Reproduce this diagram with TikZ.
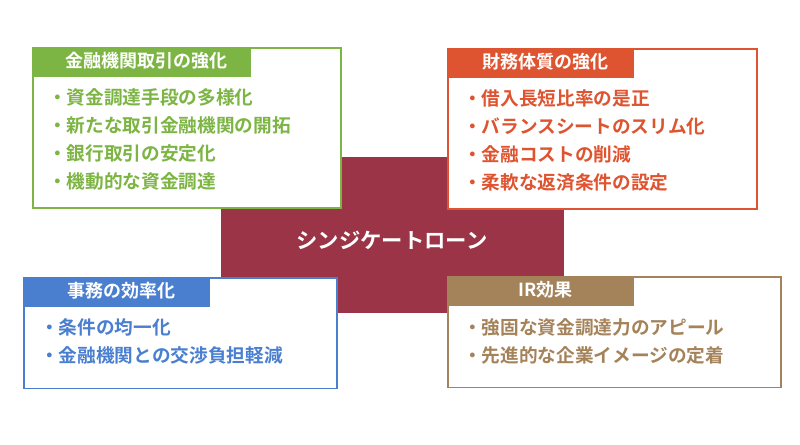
\documentclass[tikz,border=0pt]{standalone}
\usepackage{fontspec}
\newfontfamily\jpfont{Noto Sans CJK JP}
\newfontfamily\jpbold{Noto Sans CJK JP Bold}
\usetikzlibrary{positioning}
\definecolor{cgreen}{HTML}{7DB544}
\definecolor{corange}{HTML}{DF5430}
\definecolor{cblue}{HTML}{4A7FD0}
\definecolor{cbrown}{HTML}{A5835A}
\definecolor{ccenter}{HTML}{9B3447}
\tikzset{
  panel/.style={draw=#1, line width=1.2pt, fill=white, anchor=north west, inner sep=0pt},
  tab/.style={fill=#1, anchor=north west, inner sep=0pt, text=white,
    font=\jpbold\fontsize{13.5}{13.5}\selectfont, align=left, text height=10pt},
  items/.style={text=#1, anchor=north west, align=left,
    font=\jpbold\fontsize{14}{21}\selectfont, inner sep=0pt}
}
\begin{document}
\begin{tikzpicture}[x=0.75pt,y=-0.75pt]
  \useasboundingbox (0,0) rectangle (800,444);
  \fill[ccenter] (221,157) rectangle (564,313);
  \node[text=white, font=\jpbold\fontsize{16}{16}\selectfont] (center) at (392,240) {シンジケートローン};

  % top left
  \node[panel=cgreen, minimum width=231pt, minimum height=120pt] (gbox) at (32,47) {};
  \node[tab=cgreen, minimum width=164pt, minimum height=22pt] (gtab) at (32,47) {\hspace{7pt}金融機関取引の強化};
  \node[items=cgreen] (gitems) at (48,88) {・資金調達手段の多様化\\・新たな取引金融機関の開拓\\・銀行取引の安定化\\・機動的な資金調達};

  % top right
  \node[panel=corange, minimum width=232pt, minimum height=120pt] (obox) at (447,48) {};
  \node[tab=corange, minimum width=140pt, minimum height=22pt] (otab) at (447,48) {\hspace{7pt}財務体質の強化};
  \node[items=corange] (oitems) at (463,89) {・借入長短比率の是正\\・バランスシートのスリム化\\・金融コストの削減\\・柔軟な返済条件の設定};

  % bottom left
  \node[panel=cblue, minimum width=235pt, minimum height=83pt] (bbox) at (23,277) {};
  \node[tab=cblue, minimum width=140pt, minimum height=22pt] (btab) at (23,277) {\hspace{7pt}事務の効率化};
  \node[items=cblue] (bitems) at (40,318) {・条件の均一化\\・金融機関との交渉負担軽減};

  % bottom right
  \node[panel=cbrown, minimum width=250pt, minimum height=83pt] (rbox) at (447,276) {};
  \node[tab=cbrown, minimum width=140pt, minimum height=22pt] (rtab) at (447,276) {\hspace{7pt}IR効果};
  \node[items=cbrown] (ritems) at (463,318) {・強固な資金調達力のアピール\\・先進的な企業イメージの定着};
\end{tikzpicture}
\end{document}
